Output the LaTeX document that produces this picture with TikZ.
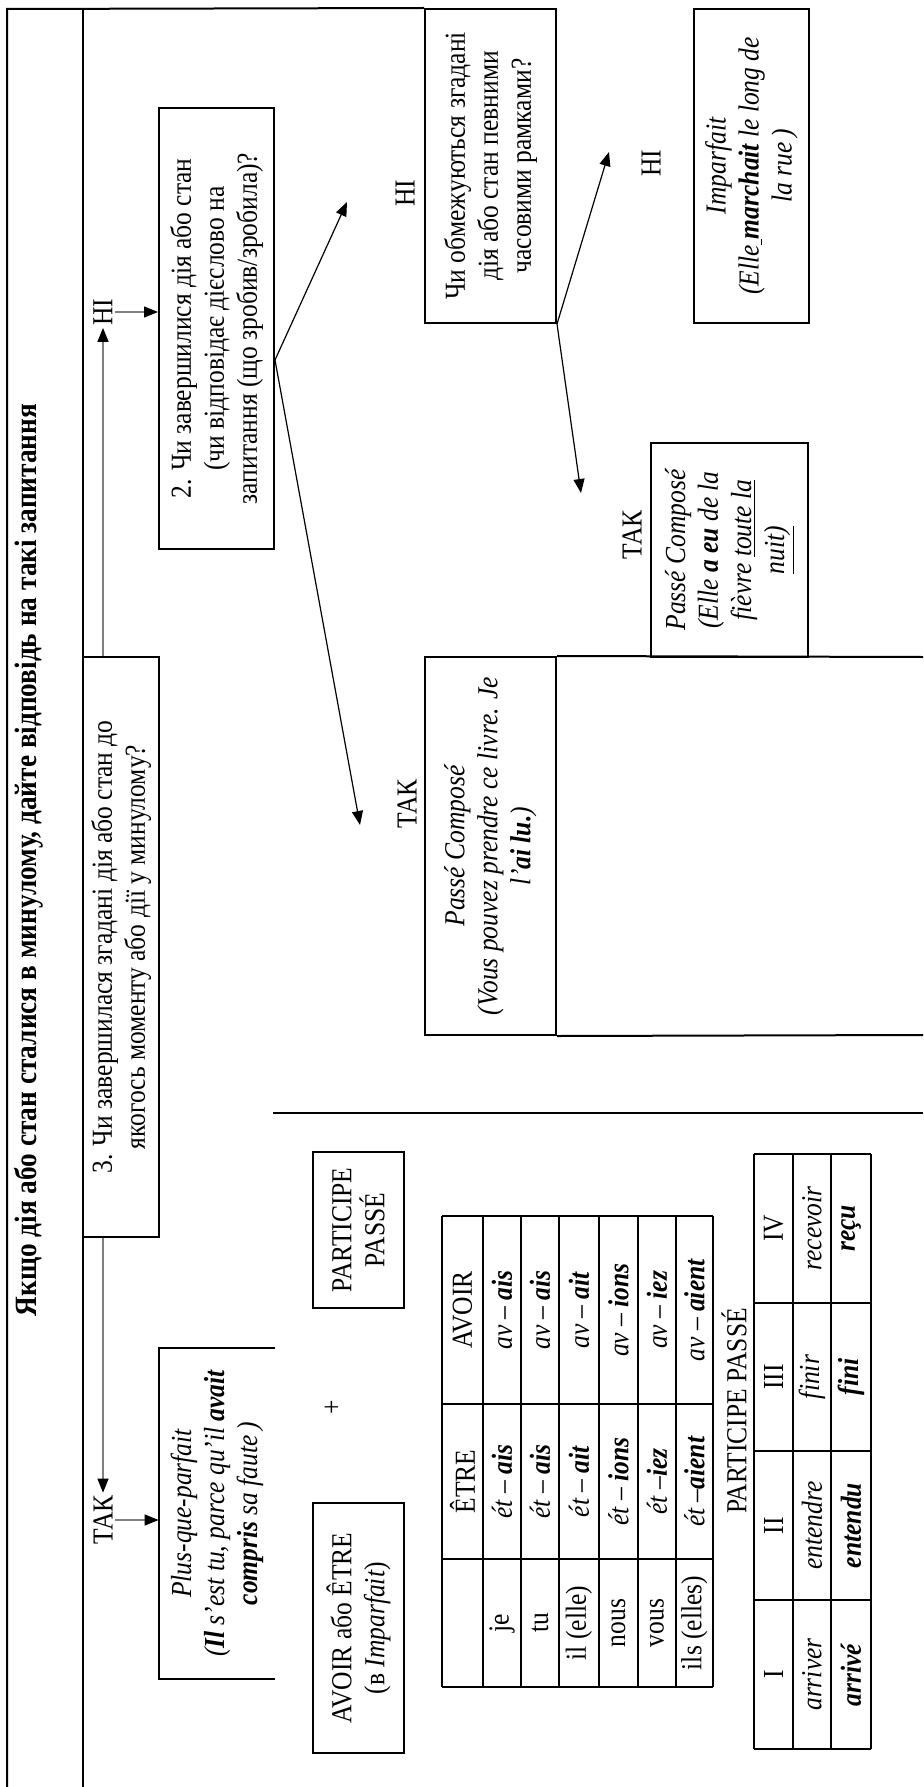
\documentclass[tikz,border=0pt]{standalone}
\usepackage{fontspec}
\setmainfont{Liberation Serif}[FakeStretch=0.88]
\usetikzlibrary{arrows.meta,calc}
\newcommand{\boxfont}{\fontsize{14.5}{16.5}\selectfont}
\newcommand{\headfont}{\fontsize{15.5}{18}\selectfont\bfseries}
\tikzset{
  frm/.style={line width=1pt},
  qbox/.style={draw, line width=1pt, rotate=90, inner sep=0pt, align=center, font=\boxfont},
  lbl/.style={rotate=90, inner sep=1pt, align=center, font=\boxfont},
  cell/.style={rotate=90, inner sep=0pt, font=\boxfont},
  arr/.style={-{Triangle[length=7pt,width=5.5pt]}, line width=0.6pt},
  garr/.style={arr, draw=black!50, -{Triangle[length=7pt,width=5.5pt,color=black]}}
}
\begin{document}
\begin{tikzpicture}[x=0.5pt,y=-0.5pt]
\useasboundingbox (0,0) rectangle (923,1787);
\node[lbl, font=\headfont] (title) at (29,860) {Якщо дія або стан сталися в минулому, дайте відповідь на такі запитання};
\node[qbox, minimum width=220.5pt, minimum height=57.5pt] (q2) at (216.5,328.5) {2. Чи завершилися дія або стан\\(чи відповідає дієслово на\\запитання (що зробив/зробила)?};
\node[qbox, minimum width=290pt, minimum height=38pt] (q3) at (121,947) {3. Чи завершилася згадані дія або стан до\\якогось моменту або дії у минулому?};
\node[qbox, minimum width=157pt, minimum height=65.5pt] (q4) at (490.5,166) {Чи обмежуються згадані\\дія або стан певними\\часовими рамками?};
\node[qbox, minimum width=157pt, minimum height=57.5pt, font=\boxfont\itshape] (imp) at (751.5,166) {Imparfait\\(Elle\underline{\ }\textbf{marchait} le long de\\la rue\,)};
\node[qbox, minimum width=107pt, minimum height=78.5pt, font=\boxfont\itshape] (pc2) at (729.5,550) {Passé Composé\\(Elle \textbf{a eu} de la\\fièvre \underline{toute la}\\\underline{nuit)}};
\node[qbox, minimum width=189pt, minimum height=65.5pt, font=\boxfont\itshape] (pc1) at (490.5,846) {Passé Composé\\(Vous pouvez prendre ce livre. Je\\l'\textbf{ai lu.})};
\node[lbl, inner sep=0pt, minimum width=165.5pt, minimum height=58pt, font=\boxfont\itshape] (pqp) at (217,1513.5) {Plus-que-parfait\\(\textbf{Il} s'est tu, parce qu'il \textbf{avait}\\\textbf{compris} sa faute\,)};
\node[qbox, minimum width=78pt, minimum height=45.5pt] (pp) at (358.5,1230) {PARTICIPE\\PASSÉ};
\node[qbox, minimum width=125pt, minimum height=45.5pt] (aux) at (358.5,1628) {AVOIR або ÊTRE\\(в \textit{Imparfait})};
\node[lbl] (plus) at (333,1407) {+};
\node[lbl] (ni1) at (103,312) {НІ};
\node[lbl] (tak1) at (103,1520) {ТАК};
\node[lbl] (ni2) at (405,193) {НІ};
\node[lbl] (tak2) at (407,804) {ТАК};
\node[lbl] (ni3) at (651,163) {НІ};
\node[lbl] (tak3) at (632,535) {ТАК};
\draw[frm] (7,1787) -- (7,9) -- (q4.north east);
\draw[frm] (83,9) -- (83,1787);
\draw[frm] (pqp.south east) -- (pqp.north east) -- (pqp.north west) -- (pqp.south west);
\draw[frm] (pc1.south east) -- (923,657);
\draw[frm] (pc1.south west) -- (923,1035);
\draw[frm] (273,1113) -- (923,1113);
\draw[garr] (ni1 |- q3.east) -- (ni1.west);
\draw[garr] (ni1.south) -- (ni1.south -| q2.north);
\draw[garr] (tak1 |- q3.west) -- (tak1.east);
\draw[garr] (tak1.south) -- (tak1.south -| pqp.north);
\coordinate (q2out) at ([yshift=-15.75pt]q2.south);
\coordinate (ni2tip) at (347,202);
\coordinate (tak2tip) at (360,825);
\coordinate (ni3tip) at (609,152);
\coordinate (tak3tip) at (581,493);
\draw[arr] (q2out) -- (ni2tip);
\draw[arr] (q2out) -- (tak2tip);
\draw[arr] (q4.south west) -- (ni3tip);
\draw[arr] (q4.south west) -- (tak3tip);
\foreach \x in {442,483,521,559,599,638,676,713} \draw[line width=0.9pt] (\x,1216) -- (\x,1687);
\foreach \y in {1216,1404,1559,1687} \draw[line width=0.9pt] (442,\y) -- (713,\y);
\node[cell] (hE) at (462.5,1481.5) {ÊTRE};
\node[cell] (hA) at (462.5,1310) {AVOIR};
\foreach \x/\p/\e/\a [count=\i] in {502/je/ét – /ais, 540/tu/ét – /ais, 579/il (elle)/ét – /ait, 618.5/nous/ét – /ions, 657/vous/ét –/iez, 694.5/ils (elles)/ét –/aient} {
  \node[cell] (pr\i) at (\x,1623) {\p};
  \node[cell] (et\i) at (\x,1481.5) {\textit{\e\textbf{\a}}};
  \node[cell] (av\i) at (\x,1310) {\textit{av – \textbf{\a}}};
}
\node[cell] (ppcap) at (734,1411) {PARTICIPE PASSÉ};
\foreach \x in {754,793,831,871} \draw[line width=0.9pt] (\x,1154) -- (\x,1749);
\foreach \y in {1154,1303,1451,1600,1749} \draw[line width=0.9pt] (754,\y) -- (871,\y);
\foreach \y/\n/\f/\g [count=\i] in {1674.5/I/arriver/arrivé, 1525.5/II/entendre/entendu, 1377/III/finir/fini, 1228.5/IV/recevoir/reçu} {
  \node[cell] (gr\i) at (773.5,\y) {\n};
  \node[cell] (inf\i) at (812,\y) {\textit{\f}};
  \node[cell] (pa\i) at (851,\y) {\textbf{\textit{\g}}};
}
\end{tikzpicture}
\end{document}
